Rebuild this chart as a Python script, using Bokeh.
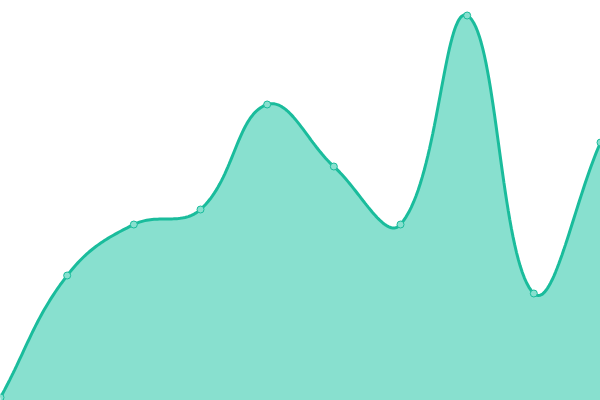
import numpy as np
from bokeh.plotting import figure
from bokeh.embed import file_html
from bokeh.resources import INLINE
from bokeh.models import Range1d

# data
categories = list(range(10))
values = [3, 125, 176, 191, 296, 234, 176, 385, 107, 258]

W, H = 600, 400
Y_MAX = 400
LINE = "#1ABC9C"
FILL = "#88E0CF"
TENSION = 0.4

p = figure(width=W, height=H, output_backend="svg", toolbar_location=None,
           x_range=Range1d(0, len(categories) - 1), y_range=Range1d(0, Y_MAX),
           min_border=0, outline_line_color=None)
p.axis.visible = False
p.grid.visible = False
p.background_fill_color = "white"
p.border_fill_color = "white"

# smooth curve (Chart.js-style spline control points)
xs = np.array(categories, dtype=float)
ys = np.array(values, dtype=float)
sx, sy = W / (len(xs) - 1), H / Y_MAX
n = len(xs)
cp_prev = np.zeros((n, 2))
cp_next = np.zeros((n, 2))
for i in range(n):
    prev = (xs[max(i - 1, 0)], ys[max(i - 1, 0)])
    cur = (xs[i], ys[i])
    nxt = (xs[min(i + 1, n - 1)], ys[min(i + 1, n - 1)])
    d01 = np.hypot((cur[0] - prev[0]) * sx, (cur[1] - prev[1]) * sy)
    d12 = np.hypot((nxt[0] - cur[0]) * sx, (nxt[1] - cur[1]) * sy)
    tot = d01 + d12
    s01 = d01 / tot if tot else 0
    s12 = d12 / tot if tot else 0
    fa, fb = TENSION * s01, TENSION * s12
    cp_prev[i] = (cur[0] - fa * (nxt[0] - prev[0]), cur[1] - fa * (nxt[1] - prev[1]))
    cp_next[i] = (cur[0] + fb * (nxt[0] - prev[0]), cur[1] + fb * (nxt[1] - prev[1]))

cx, cy = [], []
t = np.linspace(0, 1, 40)
for i in range(n - 1):
    P0 = np.array([xs[i], ys[i]]); P3 = np.array([xs[i + 1], ys[i + 1]])
    P1 = cp_next[i]; P2 = cp_prev[i + 1]
    for tt in (t if i == 0 else t[1:]):
        pt = (1 - tt) ** 3 * P0 + 3 * (1 - tt) ** 2 * tt * P1 + 3 * (1 - tt) * tt ** 2 * P2 + tt ** 3 * P3
        cx.append(pt[0]); cy.append(pt[1])

px = cx + [xs[-1], xs[0]]
py = cy + [-50, -50]
p.patch(px, py, fill_color=FILL, line_color=None)
p.line(cx, cy, line_color=LINE, line_width=3)
p.scatter(xs, ys, size=7, fill_color=FILL, line_color=LINE, line_width=1)

open("out.html", "w").write(file_html(p, INLINE))
